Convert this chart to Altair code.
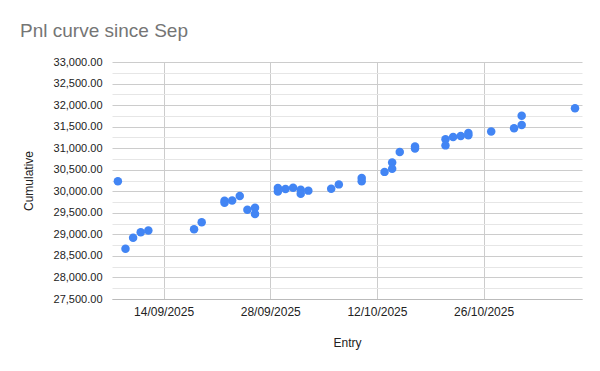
import altair as alt
import pandas as pd

# ---- data ----
dates = ["2025-09-08", "2025-09-09", "2025-09-10", "2025-09-11", "2025-09-12",
         "2025-09-18", "2025-09-19", "2025-09-22", "2025-09-22", "2025-09-23",
         "2025-09-24", "2025-09-25", "2025-09-26", "2025-09-26", "2025-09-29",
         "2025-09-29", "2025-09-30", "2025-10-01", "2025-10-02", "2025-10-02",
         "2025-10-03", "2025-10-06", "2025-10-07", "2025-10-10", "2025-10-10",
         "2025-10-13", "2025-10-14", "2025-10-14", "2025-10-15", "2025-10-17",
         "2025-10-17", "2025-10-21", "2025-10-21", "2025-10-22", "2025-10-23",
         "2025-10-24", "2025-10-24", "2025-10-27", "2025-10-30", "2025-10-31",
         "2025-10-31", "2025-11-07"]
cumulative = [30230, 28665, 28920, 29050, 29090,
              29120, 29280, 29780, 29735, 29785,
              29890, 29570, 29620, 29475, 30075,
              29995, 30055, 30080, 30035, 29940,
              30015, 30060, 30160, 30310, 30230,
              30450, 30670, 30525, 30910, 31040,
              30990, 31210, 31065, 31260, 31285,
              31350, 31300, 31385, 31460, 31755,
              31540, 31925]

y_ticks = list(range(27500, 33001, 500))
y_minor = list(range(27750, 33000, 500))
x_tick_days = [(9, 14), (9, 28), (10, 12), (10, 26)]

df = pd.DataFrame({"Entry": [d + "T00:00:00" for d in dates],
                   "Cumulative": cumulative})

x_domain = [alt.DateTime(year=2025, month=9, date=7, hours=5, minutes=30),
            alt.DateTime(year=2025, month=11, date=7, hours=22)]
x_values = [alt.DateTime(year=2025, month=m, date=d) for m, d in x_tick_days]

FONT = "Liberation Sans"

x_enc = alt.X("Entry:T",
              scale=alt.Scale(domain=x_domain),
              axis=alt.Axis(values=x_values, format="%d/%m/%Y", title="Entry",
                            grid=True, gridColor="#cccccc", ticks=False,
                            domainColor="#bbbbbb", labelFontSize=12,
                            labelPadding=7, titlePadding=20,
                            labelFont=FONT, titleFont=FONT,
                            labelColor="#222222", titleColor="#222222",
                            titleFontSize=12, titleFontWeight="normal"))

y_scale = alt.Scale(domain=[27500, 33000], nice=False, zero=False)

minor = alt.Chart(df).mark_point(opacity=0).encode(
    x=x_enc,
    y=alt.Y("Cumulative:Q", scale=y_scale,
            axis=alt.Axis(orient="right", values=y_minor, grid=True,
                          gridColor="#e6e6e6", labels=False, ticks=False,
                          domain=False, title=None)),
)

points = alt.Chart(df).mark_circle(size=72, opacity=1, color="#4285F4").encode(
    x=x_enc,
    y=alt.Y("Cumulative:Q", scale=y_scale,
            axis=alt.Axis(orient="left", values=y_ticks, format=",.2f",
                          title="Cumulative", grid=True, gridColor="#cccccc",
                          ticks=False, domain=False, labelFontSize=11,
                          labelPadding=10, titlePadding=18,
                          labelFont=FONT, titleFont=FONT,
                          labelColor="#222222", titleColor="#222222",
                          titleFontSize=12, titleFontWeight="normal")),
)

chart = alt.layer(minor, points).resolve_axis(y="independent").properties(
    width=470,
    height=237,
    autosize=alt.AutoSizeParams(type="none"),
    padding={"left": 104, "top": 54, "right": 10, "bottom": 55},
    background="white",
    title=alt.TitleParams("Pnl curve since Sep", anchor="start",
                          font=FONT, fontSize=19, fontWeight="normal",
                          color="#757575", offset=15, dx=-2),
).configure_view(stroke=None)

chart.save("out.html", embed_options={"renderer": "svg", "actions": False})
